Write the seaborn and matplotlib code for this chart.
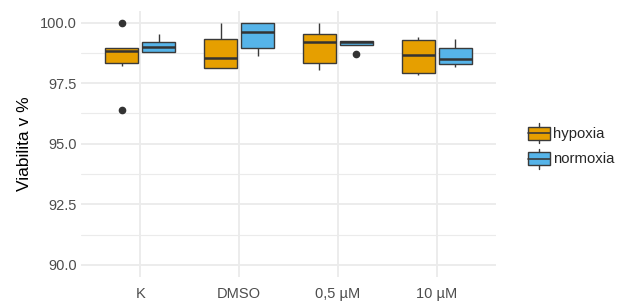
import pandas as pd
import seaborn as sns
import matplotlib.pyplot as plt
from matplotlib.patches import Patch, Rectangle
from matplotlib.lines import Line2D
from matplotlib.legend_handler import HandlerBase

# Viability values (per condition and oxygen level)
conditions = ["K", "DMSO", "0,5 µM", "10 µM"]
groups = ["hypoxia", "normoxia"]

hyp_k = [96.39, 98.22, 98.33, 98.60, 98.82, 98.90, 98.96, 98.96, 100.0]
hyp_dmso = [98.11, 98.11, 98.56, 99.33, 100.0]
hyp_05 = [98.05, 98.33, 99.19, 99.53, 100.0]
hyp_10 = [97.83, 97.91, 98.67, 99.27, 99.40]

nor_k = [98.79, 98.79, 98.98, 99.22, 99.51]
nor_dmso = [98.61, 98.94, 99.62, 100.0, 100.0]
nor_05 = [98.71, 99.07, 99.07, 99.12, 99.19, 99.22, 99.26, 99.26, 99.26]
nor_10 = [98.15, 98.28, 98.48, 98.94, 99.34]

colors = {"hypoxia": "#E69F00", "normoxia": "#56B4E9"}

# Build long table
rows = []
for grp, series in [("hypoxia", [hyp_k, hyp_dmso, hyp_05, hyp_10]),
                    ("normoxia", [nor_k, nor_dmso, nor_05, nor_10])]:
    for cond, vals in zip(conditions, series):
        for v in vals:
            rows.append({"cond": cond, "group": grp, "viab": v})
df = pd.DataFrame(rows)

sns.set_theme(style="whitegrid")
plt.rcParams["font.family"] = ["Liberation Sans", "DejaVu Sans"]

fig = plt.figure(figsize=(6.17, 3.02), dpi=100)
ax = fig.add_axes([81 / 617, 1 - 277 / 302, (496 - 81) / 617, (277 - 11) / 302])

edge = "#3A3A3A"
sns.boxplot(data=df, x="cond", y="viab", hue="group", order=conditions,
            hue_order=groups, palette=colors, saturation=1, width=0.75, gap=0.1,
            linecolor=edge, linewidth=1.0, whis=1.5, fliersize=4.5,
            medianprops={"linewidth": 1.8, "color": "#333333"},
            flierprops={"marker": "o", "markerfacecolor": "#333333",
                        "markeredgecolor": "#333333"},
            showcaps=False, legend=False, ax=ax)

ax.set_xlim(-0.6, 3.6)
ax.set_ylim(89.5, 100.48)
ax.set_yticks([90.0, 92.5, 95.0, 97.5, 100.0])
ax.set_yticklabels(["90.0", "92.5", "95.0", "97.5", "100.0"])
ax.set_yticks([91.25, 93.75, 96.25, 98.75], minor=True)
ax.set_facecolor("white")
ax.grid(True, which="major", color="#EBEBEB", linewidth=1.3)
ax.grid(True, which="minor", axis="y", color="#EBEBEB", linewidth=0.8)
ax.set_axisbelow(True)
for s in ax.spines.values():
    s.set_visible(False)

ax.set_xlabel("")
ax.set_ylabel("Viabilita v %", fontsize=12.5, color="black", labelpad=6)
ax.tick_params(axis="both", which="both", length=0, labelsize=10.5,
               labelcolor="#4D4D4D")
ax.tick_params(axis="x", pad=7)
ax.tick_params(axis="y", pad=3)


class BoxKey(HandlerBase):
    def create_artists(self, legend, orig_handle, xdescent, ydescent,
                       width, height, fontsize, trans):
        x0, y0 = -xdescent, -ydescent
        cx = x0 + width / 2
        fc = orig_handle.get_facecolor()
        box = Rectangle((x0, y0 + height * 0.18), width, height * 0.64,
                        facecolor=fc, edgecolor=edge, linewidth=1.0,
                        transform=trans)
        med = Line2D([x0, x0 + width], [y0 + height / 2] * 2, color=edge,
                     linewidth=1.2, transform=trans)
        w_lo = Line2D([cx, cx], [y0, y0 + height * 0.18], color=edge,
                      linewidth=1.0, transform=trans)
        w_hi = Line2D([cx, cx], [y0 + height * 0.82, y0 + height], color=edge,
                      linewidth=1.0, transform=trans)
        return [box, med, w_lo, w_hi]


handles = [Patch(facecolor=colors[g], label=g) for g in groups]
fig.legend(handles=handles, labels=groups, loc="center left",
           bbox_to_anchor=(528 / 617, 1 - 146 / 302),
           bbox_transform=fig.transFigure, frameon=False, fontsize=10.7,
           handlelength=1.5, handleheight=1.7, labelspacing=0.35,
           handletextpad=0.2, borderpad=0, borderaxespad=0,
           handler_map={Patch: BoxKey()})

fig.savefig("out.png", dpi=100)
